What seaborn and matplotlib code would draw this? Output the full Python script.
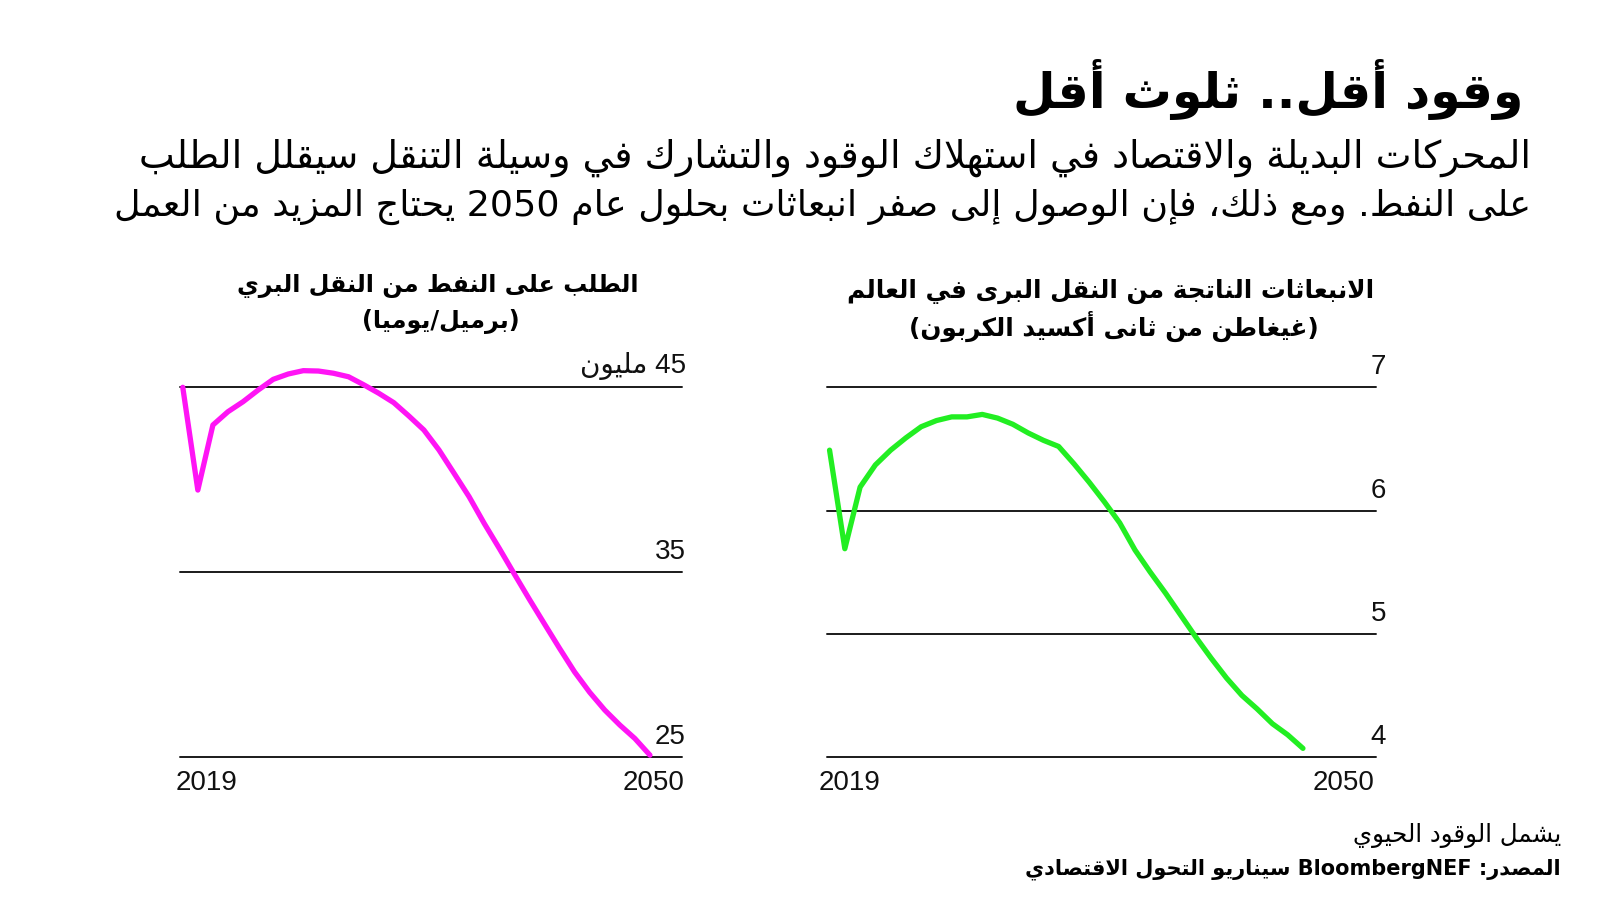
import re
import numpy as np
import pandas as pd
import matplotlib
matplotlib.use("Agg")
import matplotlib.pyplot as plt
import seaborn as sns

# ---------------- data ----------------
years = list(range(2019, 2051))
oil_demand = [45.0, 39.44, 42.96, 43.68, 44.22, 44.85, 45.43, 45.72, 45.90, 45.88,
              45.76, 45.57, 45.14, 44.68, 44.17, 43.45, 42.69, 41.61, 40.35, 39.08,
              37.64, 36.29, 34.90, 33.53, 32.20, 30.88, 29.60, 28.50, 27.54, 26.73,
              26.00, 25.10]
emissions = [6.49, 5.69, 6.19, 6.37, 6.49, 6.59, 6.68, 6.73, 6.76, 6.76,
             6.78, 6.75, 6.70, 6.63, 6.57, 6.52, 6.38, 6.23, 6.07, 5.90,
             5.68, 5.50, 5.33, 5.15, 4.97, 4.80, 4.64, 4.50, 4.39, 4.27,
             4.18, 4.07]
oil_ticks = [25, 35, 45]
oil_tick_labels = ["25", "35", "45 مليون"]
em_ticks = [4, 5, 6, 7]
em_tick_labels = ["4", "5", "6", "7"]
year_labels = ["2019", "2050"]

title = "وقود أقل.. ثلوث أقل"
subtitle = ["المحركات البديلة والاقتصاد في استهلاك الوقود والتشارك في وسيلة التنقل سيقلل الطلب",
            "على النفط. ومع ذلك، فإن الوصول إلى صفر انبعاثات بحلول عام 2050 يحتاج المزيد من العمل"]
oil_title = ["الطلب على النفط من النقل البري", "(برميل/يوميا)"]
em_title = ["الانبعاثات الناتجة من النقل البرى في العالم", "(غيغاطن من ثانى أكسيد الكربون)"]
note = "يشمل الوقود الحيوي"
source = "المصدر: BloombergNEF سيناريو التحول الاقتصادي"

# ---------------- minimal arabic shaping (matplotlib has no bidi/shaping) ----------------
RIGHT_JOIN = {'\u0622': 0xFE81, '\u0623': 0xFE83, '\u0624': 0xFE85, '\u0625': 0xFE87,
              '\u0627': 0xFE8D, '\u0629': 0xFE93, '\u062F': 0xFEA9, '\u0630': 0xFEAB,
              '\u0631': 0xFEAD, '\u0632': 0xFEAF, '\u0648': 0xFEED, '\u0649': 0xFEEF}
DUAL_JOIN = {'\u0626': 0xFE89, '\u0628': 0xFE8F, '\u062A': 0xFE95, '\u062B': 0xFE99,
             '\u062C': 0xFE9D, '\u062D': 0xFEA1, '\u062E': 0xFEA5, '\u0633': 0xFEB1,
             '\u0634': 0xFEB5, '\u0635': 0xFEB9, '\u0636': 0xFEBD, '\u0637': 0xFEC1,
             '\u0638': 0xFEC5, '\u0639': 0xFEC9, '\u063A': 0xFECD, '\u0641': 0xFED1,
             '\u0642': 0xFED5, '\u0643': 0xFED9, '\u0644': 0xFEDD, '\u0645': 0xFEE1,
             '\u0646': 0xFEE5, '\u0647': 0xFEE9, '\u064A': 0xFEF1}
LAM_ALEF = {'\u0622': 0xFEF5, '\u0623': 0xFEF7, '\u0625': 0xFEF9, '\u0627': 0xFEFB}
MIRROR = str.maketrans({'(': ')', ')': '('})


def shape(s):
    toks = []
    i = 0
    while i < len(s):
        if s[i] == '\u0644' and i + 1 < len(s) and s[i + 1] in LAM_ALEF:
            toks.append(('LA', s[i + 1]))
            i += 2
        else:
            toks.append(('C', s[i]))
            i += 1

    def joins_next(t):
        return t[0] == 'C' and t[1] in DUAL_JOIN

    def is_letter(t):
        return t[0] == 'LA' or t[1] in DUAL_JOIN or t[1] in RIGHT_JOIN

    out = []
    for k, t in enumerate(toks):
        pj = k > 0 and joins_next(toks[k - 1])
        nj = k + 1 < len(toks) and is_letter(toks[k + 1])
        if t[0] == 'LA':
            out.append(chr(LAM_ALEF[t[1]] + (1 if pj else 0)))
        elif t[1] in DUAL_JOIN:
            b = DUAL_JOIN[t[1]]
            out.append(chr(b + (3 if pj and nj else 1 if pj else 2 if nj else 0)))
        elif t[1] in RIGHT_JOIN:
            out.append(chr(RIGHT_JOIN[t[1]] + (1 if pj else 0)))
        else:
            out.append(t[1])
    return ''.join(out)


def ar(s):
    parts = re.findall(r'[A-Za-z0-9]+|[^A-Za-z0-9]+', shape(s))
    vis = []
    for p in reversed(parts):
        if re.match(r'[A-Za-z0-9]', p):
            vis.append(p)
        else:
            vis.append(p[::-1].translate(MIRROR))
    return ''.join(vis)


# ---------------- figure ----------------
sns.set_style("white")
plt.rcParams['font.family'] = ['DejaVu Sans']
plt.rcParams['text.color'] = 'black'
W, H = 1600, 901
fig = plt.figure(figsize=(16, 9.01), dpi=100)
fig.patch.set_facecolor("white")


def P(x, y):
    return x / W, 1 - y / H


renderer = fig.canvas.get_renderer()


def fit(t, width):
    w = t.get_window_extent(renderer).width
    t.set_fontsize(t.get_fontsize() * width / w)
    return t.get_fontsize()


# title / subtitle
t = fig.text(*P(1523, 89), ar(title), ha='right', va='center', fontsize=36, fontweight='bold')
fit(t, 510)
s1 = fig.text(*P(1531, 158), ar(subtitle[0]), ha='right', va='center', fontsize=22)
fit(s1, 1390)
s2 = fig.text(*P(1531, 207), ar(subtitle[1]), ha='right', va='center', fontsize=22)
fit(s2, 1415)

# chart titles
t1 = fig.text(*P(438, 286), ar(oil_title[0]), ha='center', va='center', fontsize=18, fontweight='bold')
fs1 = fit(t1, 403)
fig.text(*P(441, 322), ar(oil_title[1]), ha='center', va='center', fontsize=fs1, fontweight='bold')
t2 = fig.text(*P(1111, 291), ar(em_title[0]), ha='center', va='center', fontsize=18, fontweight='bold')
fs2 = fit(t2, 529)
fig.text(*P(1114, 326), ar(em_title[1]), ha='center', va='center', fontsize=fs2, fontweight='bold')

# footer
n1 = fig.text(*P(1561, 835), ar(note), ha='right', va='center', fontsize=16)
fit(n1, 209)
n2 = fig.text(*P(1561, 869), ar(source), ha='right', va='center', fontsize=16, fontweight='bold')
fit(n2, 536)

num_font = ['Liberation Sans', 'DejaVu Sans']

panels = [
    dict(x0=179.6, x1=681.6, xlim=(2018.79, 2052.1), ylim=(25, 45), vals=oil_demand,
         ticks=oil_ticks, labels=oil_tick_labels, color='#FF14F5', lab_right=686, yr_left=175.5, yr_right=685),
    dict(x0=826.5, x1=1375.5, xlim=(2018.8, 2054.75), ylim=(4, 7), vals=emissions,
         ticks=em_ticks, labels=em_tick_labels, color='#22EE22', lab_right=1386, yr_left=818.4, yr_right=1374.5),
]

y_top, y_bot = 387.3, 757.0
for p in panels:
    ax = fig.add_axes([p['x0'] / W, 1 - y_bot / H, (p['x1'] - p['x0']) / W, (y_bot - y_top) / H])
    df = pd.DataFrame({'year': years, 'value': p['vals']})
    sns.lineplot(data=df, x='year', y='value', ax=ax, color=p['color'], linewidth=3.8,
                 clip_on=False, zorder=3)
    ax.set_xlim(*p['xlim'])
    ax.set_ylim(*p['ylim'])
    for tk in p['ticks']:
        ax.axhline(tk, color='#1a1a1a', linewidth=1.4, zorder=1, clip_on=False)
    ax.set_xticks([])
    ax.set_yticks([])
    ax.set_xlabel('')
    ax.set_ylabel('')
    for sp in ax.spines.values():
        sp.set_visible(False)
    ax.patch.set_alpha(0)
    for tk, lab in zip(p['ticks'], p['labels']):
        yy = y_bot - (tk - p['ylim'][0]) / (p['ylim'][1] - p['ylim'][0]) * (y_bot - y_top)
        fig.text(*P(p['lab_right'], yy - 7), ar(lab), ha='right', va='bottom', fontsize=20,
                 family=num_font, color='#111111')
    fig.text(*P(p['yr_left'], 783), year_labels[0], ha='left', va='center', fontsize=20,
             family=num_font, color='#111111')
    fig.text(*P(p['yr_right'], 783), year_labels[1], ha='right', va='center', fontsize=20,
             family=num_font, color='#111111')

fig.savefig("out.png", dpi=100, facecolor="white")
